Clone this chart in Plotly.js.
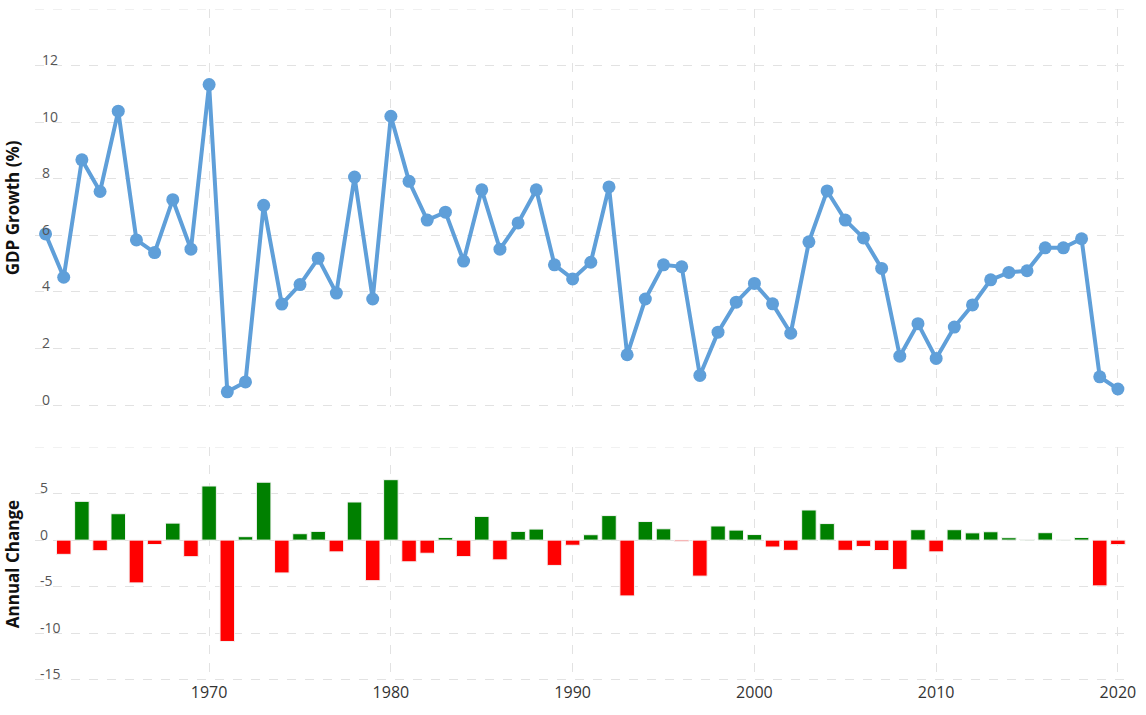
<!DOCTYPE html>
<html>
<head>
<meta charset="utf-8">
<script src="https://cdn.plot.ly/plotly-3.0.1.min.js"></script>
<style>
html,body{margin:0;padding:0;background:#fff;}
#chart{width:1146px;height:715px;}
</style>
</head>
<body>
<div id="chart"></div>
<script>
const years = [1961,1962,1963,1964,1965,1966,1967,1968,1969,1970,
  1971,1972,1973,1974,1975,1976,1977,1978,1979,1980,
  1981,1982,1983,1984,1985,1986,1987,1988,1989,1990,
  1991,1992,1993,1994,1995,1996,1997,1998,1999,2000,
  2001,2002,2003,2004,2005,2006,2007,2008,2009,2010,
  2011,2012,2013,2014,2015,2016,2017,2018,2019,2020];

const gdpGrowth = [6.05,4.52,8.67,7.55,10.39,5.84,5.39,7.26,5.51,11.33,
  0.47,0.82,7.06,3.57,4.26,5.19,3.96,8.06,3.75,10.21,
  7.91,6.54,6.82,5.09,7.61,5.51,6.44,7.61,4.96,4.46,
  5.05,7.71,1.78,3.75,4.96,4.89,1.05,2.58,3.64,4.30,
  3.58,2.54,5.77,7.57,6.54,5.91,4.83,1.73,2.88,1.65,
  2.76,3.54,4.43,4.69,4.75,5.56,5.56,5.88,1.00,0.57];

const changeYears = years.slice(1);
const annualChange = [-1.53,4.17,-1.14,2.84,-4.6,-0.47,1.83,-1.78,5.82,-10.9,
  0.37,6.23,-3.53,0.69,0.94,-1.26,4.1,-4.36,6.5,-2.33,
  -1.41,0.28,-1.77,2.55,-2.12,0.94,1.19,-2.72,-0.55,0.58,
  2.64,-6.0,2.0,1.22,-0.12,-3.87,1.52,1.08,0.6,-0.74,
  -1.1,3.24,1.78,-1.1,-0.68,-1.12,-3.15,1.12,-1.26,1.12,
  0.78,0.9,0.26,0.06,0.8,0.02,0.28,-4.92,-0.48];

const yTop = [0,2,4,6,8,10,12];
const yBottom = [-15,-10,-5,0,5];
const xTicks = [1970,1980,1990,2000,2010,2020];

const barColors = annualChange.map(v => v >= 0 ? '#008000' : '#ff0000');

const gridColor = '#e2e2e2';
const fontFam = '"Open Sans", "DejaVu Sans", sans-serif';
const titleFont = {size: 17, color: '#111', family: fontFam, weight: 'bold'};
const yTickFont = {size: 14, color: '#555', family: fontFam};

const traces = [
  {
    x: years, y: gdpGrowth, type: 'scatter', mode: 'lines+markers',
    xaxis: 'x2', yaxis: 'y2',
    line: {color: '#5f9fd9', width: 4},
    marker: {color: '#5f9fd9', size: 13},
    hoverinfo: 'x+y', showlegend: false
  },
  {
    x: changeYears, y: annualChange, type: 'bar',
    xaxis: 'x', yaxis: 'y',
    marker: {color: barColors, line: {color: '#f4f4f4', width: 1}},
    hoverinfo: 'x+y', showlegend: false
  }
];

const annotations = [];
yTop.forEach(v => annotations.push({
  xref: 'paper', yref: 'y2', x: 0, y: v, xanchor: 'left', yanchor: 'middle',
  xshift: 5, yshift: 6, text: String(v), showarrow: false, font: yTickFont
}));
yBottom.forEach(v => annotations.push({
  xref: 'paper', yref: 'y', x: 0, y: v, xanchor: 'left', yanchor: 'middle',
  xshift: 3, yshift: 6, text: String(v), showarrow: false, font: yTickFont
}));

const layout = {
  width: 1146, height: 715,
  margin: {l: 35, r: 19, t: 9, b: 34},
  paper_bgcolor: '#ffffff', plot_bgcolor: '#ffffff',
  font: {family: fontFam, color: '#444'},
  bargap: 0.2,
  showlegend: false,
  xaxis: {
    domain: [0, 1], anchor: 'y',
    range: [1960.42, 2020.5],
    tickvals: xTicks, ticktext: xTicks.map(String),
    showgrid: true, gridcolor: gridColor, griddash: 'dash', gridwidth: 1,
    zeroline: false, showline: false, ticks: '',
    tickfont: {size: 16, color: '#333', family: fontFam},
    automargin: false
  },
  xaxis2: {
    domain: [0, 1], anchor: 'y2', matches: 'x',
    range: [1960.42, 2020.5],
    tickvals: xTicks,
    showticklabels: false,
    showgrid: true, gridcolor: gridColor, griddash: 'dash', gridwidth: 1,
    zeroline: false, showline: false, ticks: ''
  },
  yaxis: {
    domain: [0, 0.348], anchor: 'x',
    range: [-15.15, 10],
    tickvals: yBottom, showticklabels: false,
    showgrid: true, gridcolor: gridColor, griddash: 'dash', gridwidth: 1,
    zeroline: false, showline: false, ticks: '',
    title: {text: 'Annual Change', font: titleFont, standoff: 10},
    automargin: false
  },
  yaxis2: {
    domain: [0.408, 1], anchor: 'x2',
    range: [-0.06, 14],
    tickvals: yTop, showticklabels: false,
    showgrid: true, gridcolor: gridColor, griddash: 'dash', gridwidth: 1,
    zeroline: false, showline: false, ticks: '',
    title: {text: 'GDP Growth (%)', font: titleFont, standoff: 10},
    automargin: false
  },
  annotations: annotations,
  shapes: [
    {type: 'line', xref: 'paper', yref: 'y2', x0: 0, x1: 1, y0: 14, y1: 14, line: {color: gridColor, width: 1, dash: 'dash'}, layer: 'below'},
    {type: 'line', xref: 'paper', yref: 'y', x0: 0, x1: 1, y0: 10, y1: 10, line: {color: gridColor, width: 1, dash: 'dash'}, layer: 'below'}
  ]
};

Plotly.newPlot('chart', traces, layout, {displayModeBar: false, staticPlot: true});
</script>
</body>
</html>
